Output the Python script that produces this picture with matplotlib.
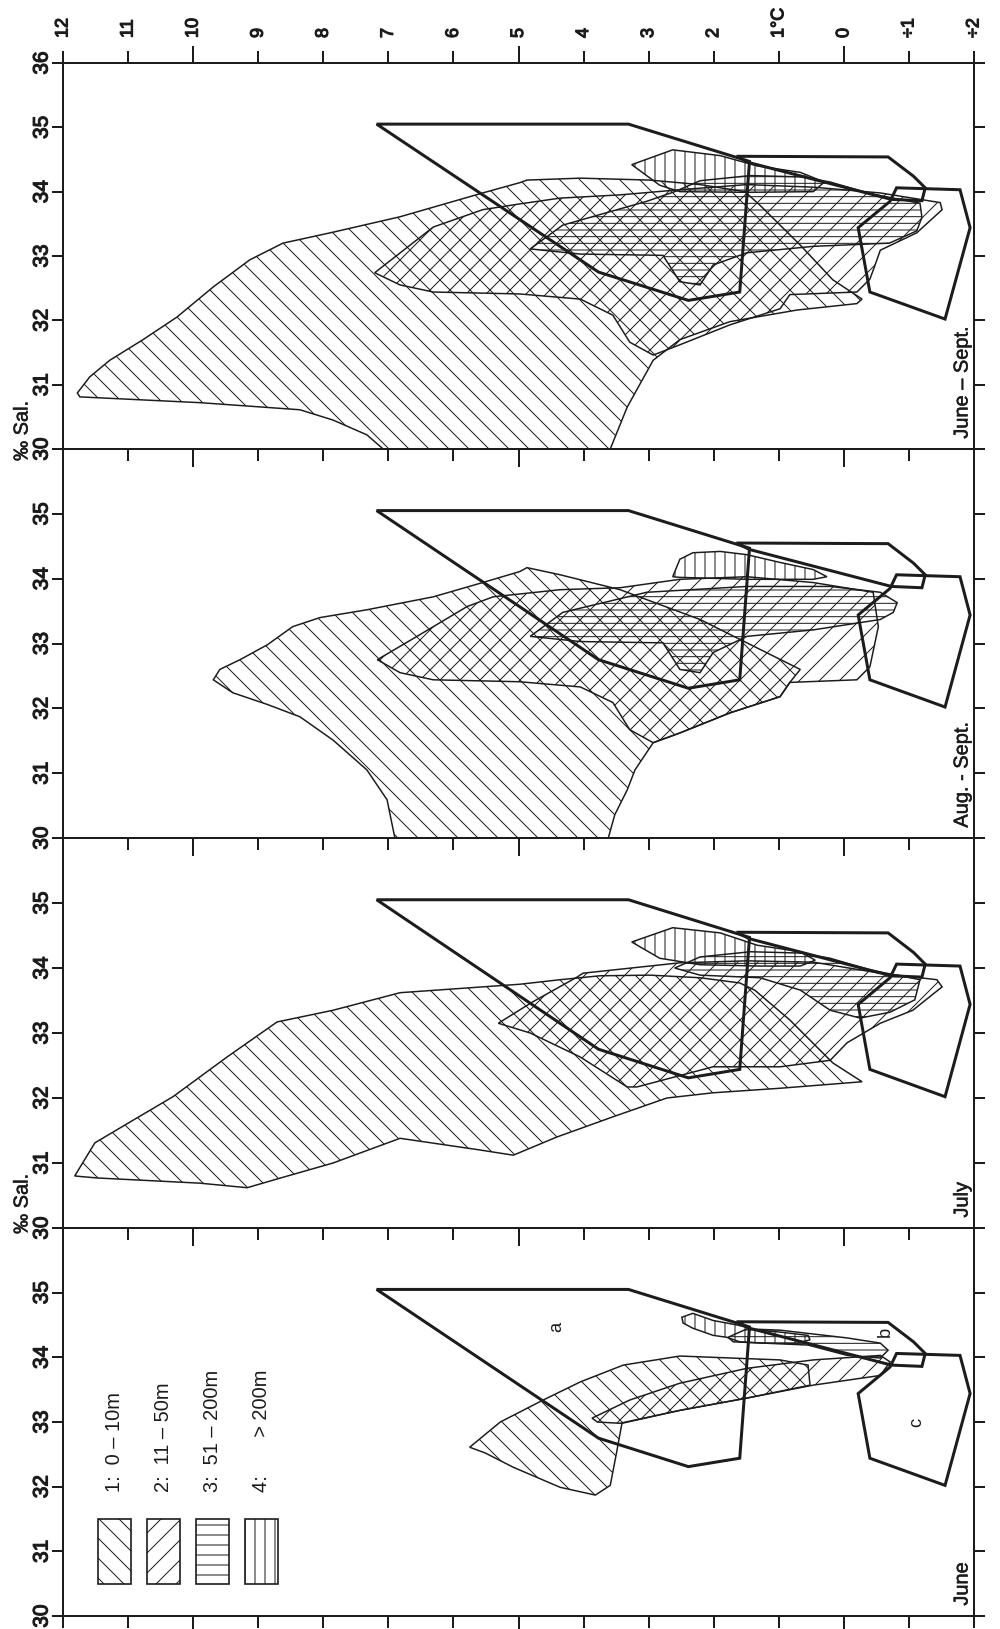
import numpy as np
import matplotlib.pyplot as plt
import matplotlib.patheffects as pe
from matplotlib.patches import Polygon, Rectangle

plt.rcParams['font.family'] = ['Liberation Sans', 'DejaVu Sans']
plt.rcParams['hatch.linewidth'] = 0.6
plt.rcParams['hatch.color'] = '#222222'

# --- axes ---
temp_ticks = [12, 11, 10, 9, 8, 7, 6, 5, 4, 3, 2, 1, 0, -1, -2]
temp_labels = ['12', '11', '10', '9', '8', '7', '6', '5', '4', '3', '2', '1°C', '0', '÷1', '÷2']
sal_ticks = [30, 31, 32, 33, 34, 35, 36]
panel_names = ['June – Sept.', 'Aug. - Sept.', 'July', 'June']

# --- water masses a, b, c (temperature, salinity), same in every panel ---
mass_a = [(7.18, 35.05), (3.31, 35.05), (1.45, 34.47), (1.6, 32.44), (2.39, 32.31), (3.77, 32.75)]
mass_b = [(1.65, 34.55), (-0.68, 34.54), (-1.07, 34.24), (-1.25, 34.06), (-1.2, 33.86),
          (-0.73, 33.88), (1.45, 34.45)]
mass_c = [(-0.81, 34.06), (-1.785, 34.03), (-1.94, 33.44), (-1.555, 32.02), (-0.4, 32.44),
          (-0.22, 33.44), (-0.71, 33.85)]

# --- depth zones 1: 0-10m, 2: 11-50m, 3: 51-200m, 4: >200m ---
june_1 = [(5.75, 32.61), (5.28, 33.0), (4.62, 33.34), (4.05, 33.62), (3.39, 33.88), (2.52, 34.02),
          (1.75, 33.99), (0.98, 33.96), (0.55, 33.88), (0.52, 33.57), (1.49, 33.37), (2.52, 33.18),
          (3.41, 32.98), (3.5, 32.49), (3.59, 32.02), (3.82, 31.87), (4.36, 31.99), (5.08, 32.30),
          (5.51, 32.52)]
june_2 = [(3.87, 33.06), (3.29, 33.34), (2.52, 33.6), (1.49, 33.83), (0.47, 33.96), (-0.56, 34.03),
          (-0.71, 33.93), (-0.56, 33.72), (0.47, 33.57), (1.49, 33.37), (2.52, 33.18), (3.44, 32.98),
          (3.79, 33.0)]
june_3 = [(1.78, 34.31), (1.49, 34.44), (0.98, 34.42), (0.55, 34.37), (-0.05, 34.3), (-0.56, 34.22),
          (-0.68, 34.11), (-0.56, 33.99), (-0.05, 34.03), (0.55, 34.19), (1.24, 34.22), (1.7, 34.24)]
june_4 = [(2.49, 34.62), (2.32, 34.68), (2.01, 34.57), (1.64, 34.5), (1.33, 34.42), (0.98, 34.39),
          (0.55, 34.34), (0.52, 34.27), (0.72, 34.22), (1.24, 34.22), (1.6, 34.24), (1.8, 34.31),
          (2.01, 34.34), (2.32, 34.45), (2.47, 34.53)]

july_1 = [(11.82, 30.8), (11.51, 31.31), (10.92, 31.66), (10.31, 32.02), (9.48, 32.63), (8.71, 33.17),
          (7.85, 33.35), (6.82, 33.62), (4.98, 33.75), (4.36, 33.82), (3.75, 33.88), (2.98, 33.89),
          (2.21, 33.85), (1.6, 33.77), (1.37, 33.66), (0.83, 33.2), (0.17, 32.54), (-0.28, 32.25),
          (0.98, 32.15), (2.01, 32.08), (2.72, 32.0), (3.55, 31.71), (4.41, 31.4), (5.08, 31.12),
          (5.59, 31.2), (6.82, 31.38), (7.85, 31.0), (8.62, 30.78), (9.17, 30.62), (9.9, 30.69),
          (11.48, 30.77)]
july_2 = [(5.31, 33.15), (4.78, 33.48), (4.1, 33.86), (4.01, 33.92), (2.52, 34.08), (1.49, 34.11),
          (0.47, 34.09), (-0.56, 33.92), (-1.43, 33.82), (-1.51, 33.71), (-1.06, 33.35), (-0.56, 33.15),
          (-0.05, 32.85), (0.21, 32.58), (0.98, 32.48), (2.01, 32.48), (3.18, 32.17), (3.33, 32.17),
          (4.05, 32.63), (4.82, 33.0)]
july_3 = [(2.6, 34.0), (2.21, 34.17), (1.44, 34.25), (0.67, 34.23), (0.21, 34.15), (-0.4, 33.97),
          (-1.17, 33.82), (-1.09, 33.51), (-0.71, 33.32), (-0.25, 33.23), (0.21, 33.35), (0.67, 33.66),
          (1.29, 33.85), (2.21, 33.89)]
july_4 = [(3.26, 34.4), (2.63, 34.62), (1.9, 34.54), (1.33, 34.35), (0.67, 34.25), (0.44, 34.12),
          (0.67, 34.03), (1.29, 34.03), (2.21, 34.05), (2.83, 34.15)]

aug_1 = [(6.90, 30.0), (7.02, 30.59), (7.33, 31.05), (7.85, 31.51), (8.36, 31.87), (8.86, 32.06),
         (9.39, 32.24), (9.69, 32.44), (9.59, 32.60), (9.28, 32.75), (8.86, 32.98), (8.47, 33.26),
         (8.05, 33.4), (7.33, 33.52), (6.31, 33.72), (5.55, 33.94), (4.98, 34.11), (4.87, 34.17),
         (4.36, 34.06), (3.44, 33.83), (2.21, 33.37), (1.29, 32.91), (0.67, 32.6), (0.83, 32.40),
         (0.98, 32.18), (1.75, 31.93), (2.52, 31.62), (2.93, 31.47), (3.21, 31.05), (3.33, 30.74),
         (3.52, 30.36), (3.62, 30.0)]
aug_2 = [(7.17, 32.75), (6.56, 33.11), (5.79, 33.57), (5.39, 33.72), (4.36, 33.83), (3.44, 33.86),
         (2.52, 33.99), (1.49, 34.03), (0.47, 33.94), (-0.45, 33.79), (-0.53, 33.26), (-0.40, 32.64),
         (-0.2, 32.44), (0.83, 32.40), (0.98, 32.18), (1.75, 31.93), (2.52, 31.62), (2.93, 31.47),
         (3.29, 31.67), (3.55, 32.09), (4.05, 32.33), (4.98, 32.41), (6.31, 32.44), (6.82, 32.55)]
aug_3 = [(4.82, 33.11), (4.32, 33.48), (3.03, 33.79), (1.49, 33.88), (0.21, 33.88), (-0.56, 33.79),
         (-0.82, 33.63), (-0.76, 33.48), (-0.56, 33.37), (0.47, 33.21), (1.49, 33.11), (2.01, 32.86),
         (2.21, 32.55), (2.52, 32.6), (2.78, 33.01), (4.05, 33.03)]
aug_4 = [(2.63, 34.03), (2.52, 34.30), (2.32, 34.40), (1.9, 34.42), (1.49, 34.37), (0.98, 34.25),
         (0.47, 34.14), (0.26, 34.03), (0.47, 33.99), (1.49, 33.99), (2.52, 34.02)]

all_1 = [(11.78, 30.87), (11.59, 31.12), (11.28, 31.38), (10.77, 31.70), (10.25, 32.05), (9.69, 32.52),
         (9.13, 32.94), (8.62, 33.20), (7.85, 33.37), (6.82, 33.61), (5.55, 33.98), (4.98, 34.14),
         (4.87, 34.18), (4.05, 34.21), (2.98, 34.18), (2.21, 34.11), (1.52, 34.0), (1.29, 33.79),
         (0.67, 33.17), (0.17, 32.63), (-0.28, 32.33), (-0.2, 32.26), (0.72, 32.16), (1.75, 31.98),
         (2.52, 31.7), (2.93, 31.38), (3.33, 30.65), (3.59, 30.0), (7.08, 30.0), (7.33, 30.22),
         (7.85, 30.45), (8.36, 30.61), (9.89, 30.72), (11.74, 30.81)]
all_2 = [(7.21, 32.74), (6.31, 33.45), (5.55, 33.72), (4.98, 33.81), (4.36, 33.90), (3.44, 33.95),
         (2.52, 34.03), (1.49, 34.11), (0.47, 34.07), (-0.56, 33.98), (-1.48, 33.83), (-1.51, 33.72),
         (-1.12, 33.36), (-0.56, 33.09), (-0.48, 32.86), (-0.40, 32.64), (-0.20, 32.44), (0.83, 32.40),
         (0.98, 32.18), (1.75, 31.93), (2.52, 31.62), (2.93, 31.46), (3.29, 31.66), (3.55, 32.08),
         (4.05, 32.33), (4.98, 32.41), (6.31, 32.44), (6.82, 32.55)]
all_3 = [(4.82, 33.11), (4.32, 33.48), (3.03, 33.85), (2.6, 34.0), (2.21, 34.17), (1.44, 34.25),
         (0.67, 34.23), (0.21, 34.15), (-0.4, 33.97), (-1.17, 33.82), (-1.2, 33.6), (-1.12, 33.39),
         (-0.7, 33.2), (0.47, 33.15), (1.49, 33.05), (2.01, 32.86), (2.21, 32.55), (2.52, 32.6),
         (2.78, 33.01), (4.05, 33.03)]
all_4 = [(3.26, 34.42), (2.63, 34.65), (1.9, 34.56), (1.33, 34.4), (0.67, 34.3), (0.3, 34.15),
         (0.47, 34.0), (1.49, 33.99), (2.52, 34.0), (2.83, 34.1)]

legend_labels = ['1:  0 – 10m', '2:  11 – 50m', '3:  51 – 200m', '4:       > 200m']

zone_hatch = ['\\\\', '//', '---', '||']
legend_hatch = ['\\\\', '//', '--', '||']
ink = '#1c1c1c'
heavy = [pe.withStroke(linewidth=0.7, foreground=ink)]
medium = [pe.withStroke(linewidth=0.3, foreground=ink)]

panels = [
    [all_1, all_2, all_3, all_4],
    [aug_1, aug_2, aug_3, aug_4],
    [july_1, july_2, july_3, july_4],
    [june_1, june_2, june_3, june_4],
]

W, H = 1000, 1629
fig = plt.figure(figsize=(W / 120, H / 120), dpi=120)
fig.patch.set_facecolor('white')

left_px, right_px = 63, 974
edges_px = [63, 449, 838, 1228, 1616]

axes = []
for i in range(4):
    top, bot = edges_px[i], edges_px[i + 1]
    ax = fig.add_axes([left_px / W, 1 - bot / H, (right_px - left_px) / W, (bot - top) / H])
    ax.patch.set_alpha(0)
    ax.set_xlim(12, -2)
    ax.set_ylim(30, 36)

    ax.set_xticks([10, 5, 0])
    ax.set_xticks([t for t in temp_ticks if t % 5 != 0], minor=True)
    ax.set_yticks(sal_ticks)
    ax.tick_params(axis='x', which='both', direction='out', bottom=True, top=(i == 0),
                   labelbottom=False, labeltop=False, width=1.2, color=ink)
    ax.tick_params(axis='x', which='major', length=10.5)
    ax.tick_params(axis='x', which='minor', length=7)
    ax.tick_params(axis='y', direction='out', left=True, right=True, labelleft=False,
                   length=6.5, width=1.2, color=ink)
    for sp in ax.spines.values():
        sp.set_linewidth(1.2)
        sp.set_color(ink)

    # hatched depth zones
    for zone, hatch in zip(panels[i], zone_hatch):
        ax.add_patch(Polygon(np.array(zone), closed=True, facecolor='none', edgecolor=ink,
                             lw=0.9, hatch=hatch, zorder=2))

    # water mass boxes
    for mass in (mass_a, mass_b, mass_c):
        ax.add_patch(Polygon(np.array(mass), closed=True, fill=False, edgecolor=ink,
                             lw=1.8, joinstyle='miter', zorder=3))

    # salinity labels
    labels = sal_ticks if i == 0 else sal_ticks[:-1]
    for s in labels:
        ax.text(-21 / 911, s, str(s), transform=ax.get_yaxis_transform(), rotation=90,
                ha='center', va='center', fontsize=12.5, color=ink, clip_on=False,
                path_effects=heavy)

    ax.text(-1.816, 30.16, panel_names[i], rotation=90, ha='center', va='bottom',
            fontsize=12, color=ink, path_effects=medium)
    axes.append(ax)

# temperature labels along the top
for t, lab in zip(temp_ticks, temp_labels):
    axes[0].text(t, 1 + 25 / 386, lab, transform=axes[0].get_xaxis_transform(), rotation=90,
                 ha='center', va='bottom', fontsize=10.8, color=ink, clip_on=False,
                 path_effects=heavy)

for k, s in [(0, 30.28), (2, 30.37)]:
    axes[k].text(-41 / 911, s, '‰ Sal.', transform=axes[k].get_yaxis_transform(), rotation=90,
                 ha='center', va='center', fontsize=12, color=ink, clip_on=False,
                 path_effects=medium)

# legend and water mass letters in the June panel
ax = axes[3]
for k, (lab, hatch) in enumerate(zip(legend_labels, legend_hatch)):
    t_left = 11.46 - 0.753 * k
    ax.add_patch(Rectangle((t_left - 0.507, 30.5), 0.507, 1.0, facecolor='none',
                           edgecolor=ink, lw=1.0, hatch=hatch))
    ax.text(t_left - 0.253, 31.92, lab, rotation=90, ha='center', va='bottom',
            fontsize=12, color=ink)

for lab, t, s in [('a', 4.41, 34.47), ('b', -0.63, 34.39), ('c', -1.12, 33.0)]:
    ax.text(t, s, lab, rotation=90, ha='center', va='center', fontsize=11, color=ink)

fig.savefig('out.png', dpi=120)
